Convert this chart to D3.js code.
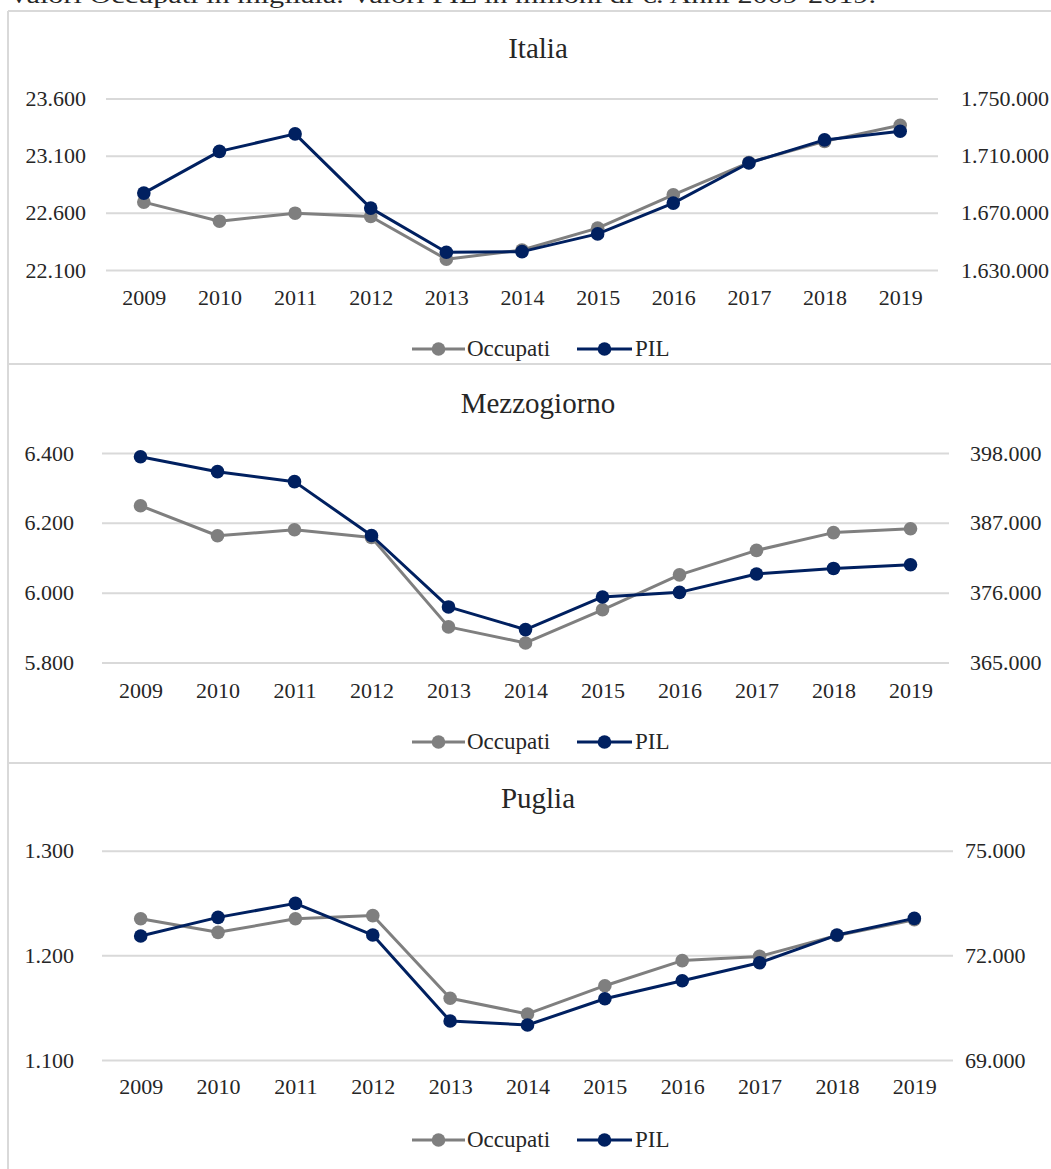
<!DOCTYPE html>
<html>
<head>
<meta charset="utf-8">
<script src="https://cdn.jsdelivr.net/npm/d3@7"></script>
<style>
  html, body { margin: 0; padding: 0; background: #fff; }
  svg { display: block; }
  text { font-family: "Liberation Serif", "DejaVu Serif", serif; fill: #262626; }
</style>
</head>
<body>
<svg id="chart" width="1051" height="1169"></svg>
<script>
const years = ["2009","2010","2011","2012","2013","2014","2015","2016","2017","2018","2019"];

const italiaOccupati = [22694, 22527, 22597, 22568, 22194, 22275, 22466, 22758, 23040, 23225, 23366];
const italiaPIL = [1683824, 1713017, 1725227, 1673298, 1642421, 1642842, 1655263, 1676807, 1704877, 1721017, 1727052];
const italiaLeftTicks = [22100, 22600, 23100, 23600];
const italiaRightTicks = [1630000, 1670000, 1710000, 1750000];

const mezzOccupati = [6249, 6163, 6180, 6158, 5902, 5856, 5951, 6051, 6121, 6172, 6183];
const mezzPIL = [397415, 395060, 393488, 385004, 373753, 370186, 375324, 376047, 378938, 379818, 380400];
const mezzLeftTicks = [5800, 6000, 6200, 6400];
const mezzRightTicks = [365000, 376000, 387000, 398000];

const pugliaOccupati = [1235, 1222, 1235, 1238, 1159, 1144, 1171, 1195, 1199, 1219, 1234];
const pugliaPIL = [72553, 73089, 73490, 72582, 70118, 70003, 70757, 71272, 71788, 72582, 73060];
const pugliaLeftTicks = [1100, 1200, 1300];
const pugliaRightTicks = [69000, 72000, 75000];

const seriesNames = ["Occupati", "PIL"];
const colors = { Occupati: "#7f7f7f", PIL: "#002060" };
const subtitle = "Valori Occupati in migliaia. Valori PIL in milioni di €. Anni 2009-2019.";

const locale = d3.formatLocale({ decimal: ",", thousands: ".", grouping: [3], currency: ["", "€"] });
const fmt = locale.format(",d");

const svg = d3.select("#chart");
const gridColor = "#d9d9d9";

// cropped header text
svg.append("text").attr("x", 8).attr("y", 3)
  .attr("font-size", 24).attr("textLength", 868).attr("lengthAdjust", "spacingAndGlyphs")
  .text(subtitle);

// panel borders
const border = svg.append("g").attr("stroke", gridColor).attr("stroke-width", 2).attr("fill", "none");
border.append("line").attr("x1", 8).attr("x2", 8).attr("y1", 11).attr("y2", 1169);
[11, 364, 763].forEach(y => border.append("line").attr("x1", 8).attr("x2", 1051).attr("y1", y).attr("y2", y));

const panels = [
  { title: "Italia", occ: italiaOccupati, pil: italiaPIL, lt: italiaLeftTicks, rt: italiaRightTicks,
    x0: 106, x1: 938, yTop: 98.5, yBot: 270, titleY: 58, xLabY: 305, legY: 349, lPad: 20, rPad: 23 },
  { title: "Mezzogiorno", occ: mezzOccupati, pil: mezzPIL, lt: mezzLeftTicks, rt: mezzRightTicks,
    x0: 102, x1: 949, yTop: 453, yBot: 662.5, titleY: 413, xLabY: 698, legY: 742, lPad: 28, rPad: 21 },
  { title: "Puglia", occ: pugliaOccupati, pil: pugliaPIL, lt: pugliaLeftTicks, rt: pugliaRightTicks,
    x0: 102, x1: 953, yTop: 850.7, yBot: 1060, titleY: 808, xLabY: 1094, legY: 1140, lPad: 28, rPad: 12 }
];

panels.forEach(p => {
  const g = svg.append("g");
  const x = d3.scalePoint().domain(years).range([p.x0, p.x1]).padding(0.5);
  const yL = d3.scaleLinear().domain([p.lt[0], p.lt[p.lt.length - 1]]).range([p.yBot, p.yTop]);
  const yR = d3.scaleLinear().domain([p.rt[0], p.rt[p.rt.length - 1]]).range([p.yBot, p.yTop]);
  const w = p.x1 - p.x0;

  // title
  g.append("text").attr("x", 538).attr("y", p.titleY).attr("text-anchor", "middle")
    .attr("font-size", 29).text(p.title);

  // left axis + gridlines
  const la = g.append("g").attr("transform", `translate(${p.x0},0)`)
    .call(d3.axisLeft(yL).tickValues(p.lt).tickFormat(fmt).tickSize(-w).tickPadding(p.lPad));
  la.select(".domain").remove();
  la.selectAll("line").attr("stroke", gridColor).attr("stroke-width", 2);
  la.selectAll("text").attr("font-size", 22).attr("fill", "#262626").attr("font-family", "Liberation Serif");

  // right axis
  const ra = g.append("g").attr("transform", `translate(${p.x1},0)`)
    .call(d3.axisRight(yR).tickValues(p.rt).tickFormat(fmt).tickSize(0).tickPadding(p.rPad));
  ra.select(".domain").remove();
  ra.selectAll("text").attr("font-size", 22).attr("fill", "#262626").attr("font-family", "Liberation Serif");

  // x axis labels
  const xa = g.append("g").attr("transform", `translate(0,${p.yBot})`)
    .call(d3.axisBottom(x).tickSize(0).tickPadding(0));
  xa.select(".domain").remove();
  xa.selectAll("text").attr("font-size", 22).attr("fill", "#262626").attr("font-family", "Liberation Serif")
    .attr("dy", null).attr("y", p.xLabY - p.yBot);

  // series
  const series = [
    { name: "Occupati", vals: p.occ, y: yL },
    { name: "PIL", vals: p.pil, y: yR }
  ];
  series.forEach(s => {
    const line = d3.line().x((d, i) => x(years[i])).y(d => s.y(d));
    g.append("path").datum(s.vals).attr("d", line).attr("fill", "none")
      .attr("stroke", colors[s.name]).attr("stroke-width", 3).attr("stroke-linejoin", "round");
    g.selectAll(null).data(s.vals).enter().append("circle")
      .attr("cx", (d, i) => x(years[i])).attr("cy", d => s.y(d)).attr("r", 6.8)
      .attr("fill", colors[s.name]);
  });

  // legend
  const leg = g.append("g").attr("transform", `translate(0,${p.legY})`);
  const items = [
    { name: "Occupati", lx0: 412, lx1: 465, tx: 467 },
    { name: "PIL", lx0: 577, lx1: 632, tx: 635 }
  ];
  items.forEach(it => {
    leg.append("line").attr("x1", it.lx0).attr("x2", it.lx1).attr("y1", 0).attr("y2", 0)
      .attr("stroke", colors[it.name]).attr("stroke-width", 3);
    leg.append("circle").attr("cx", (it.lx0 + it.lx1) / 2).attr("cy", 0).attr("r", 6.8)
      .attr("fill", colors[it.name]);
    leg.append("text").attr("x", it.tx).attr("y", 7).attr("font-size", 23).text(it.name);
  });
});
</script>
</body>
</html>
